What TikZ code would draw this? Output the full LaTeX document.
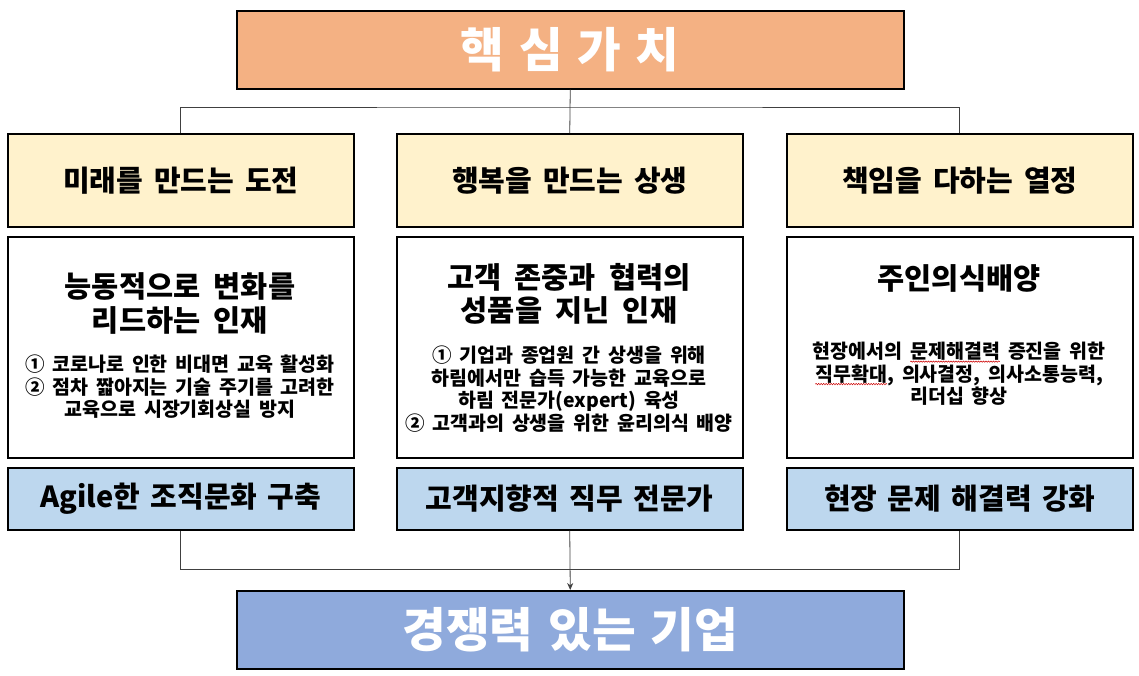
\documentclass[tikz,border=0pt]{standalone}
\usepackage{fontspec}
\setmainfont{Noto Sans CJK KR}
\usetikzlibrary{arrows.meta,decorations.pathmorphing}
\definecolor{corange}{HTML}{F4B183}
\definecolor{cyellow}{HTML}{FFF2CC}
\definecolor{cblue}{HTML}{BDD7EE}
\definecolor{cgoal}{HTML}{8FAADC}
\newcommand\wavyword[1]{\tikz[baseline=(w.base)]{\node[inner sep=0pt,outer sep=0pt](w){#1};\draw[red!80!black,line width=0.5pt,decorate,decoration={snake,amplitude=0.7pt,segment length=2.5pt}] ([yshift=-2.8pt]w.base west) -- ([yshift=-2.8pt]w.base east);}}
\newcommand\kfont[3]{\bfseries\fontsize{#1}{#2}\selectfont\spaceskip=#3em\relax}
\begin{document}
\begin{tikzpicture}[x=1pt,y=-1pt,
  box/.style={draw=black, line width=1.5pt, inner sep=0pt, anchor=north west},
  wide/.style={box, minimum width=667pt, minimum height=78pt, text=white, font=\kfont{47.5}{54}{0.31}},
  valbox/.style={box, fill=cyellow, minimum width=346pt, minimum height=93pt, font=\kfont{29}{34}{0.38}},
  descbox/.style={box, fill=white, minimum width=346pt, minimum height=221pt},
  resbox/.style={box, fill=cblue, minimum width=346pt, minimum height=62pt, font=\kfont{29}{34}{0.36}},
  head/.style={align=center, inner sep=0pt, font=\kfont{29.5}{33.5}{0.45}},
  body/.style={align=center, inner sep=0pt, font=\kfont{19.5}{22.5}{0.4}},
  link/.style={draw=black!75, line width=0.8pt}
]
\useasboundingbox (0,0) rectangle (1139,675);

% top
\node[wide, fill=corange] (core) at (236,10) {핵 심 가 치};

% values row
\node[valbox] (v1) at (7,133) {미래를 만드는 도전};
\node[valbox] (v2) at (396,133) {행복을 만드는 상생};
\node[valbox] (v3) at (786,133) {책임을 다하는 열정};

% description row
\node[descbox] (d1) at (7,236) {};
\node[descbox] (d2) at (396,236) {};
\node[descbox] (d3) at (786,236) {};

\node[head] (h1) at (180,303.5) {능동적으로 변화를\\리드하는 인재};
\node[body] (t1) at (180,387) {① 코로나로 인한 비대면 교육 활성화\\② 점차 짧아지는 기술 주기를 고려한\\교육으로 시장기회상실 방지};

\node[head] (h2) at (569,294) {고객 존중과 협력의\\성품을 지닌 인재};
\node[body] (t2) at (569,389) {① 기업과 종업원 간 상생을 위해\\하림에서만 습득 가능한 교육으로\\하림 전문가(expert) 육성\\② 고객과의 상생을 위한 윤리의식 배양};

\node[head] (h3) at (959,278) {주인의식배양};
\node[body] (t3) at (959,374) {현장에서의 \wavyword{문제해결력} 증진을 위한\\\wavyword{직무확대}, 의사결정, 의사소통능력,\\리더십 향상};

% result row
\node[resbox] (r1) at (7,467) {Agile한 조직문화 구축};
\node[resbox] (r2) at (396,467) {고객지향적 직무 전문가};
\node[resbox] (r3) at (786,467) {현장 문제 해결력 강화};

% goal
\node[wide, fill=cgoal] (goal) at (236,590) {경쟁력 있는 기업};

% connectors
\coordinate (hubtop) at (569.5,107);
\coordinate (hubbot) at (569.5,569);
\draw[link] (core.south) -- (v2.north);
\draw[link] (v1.north) |- (hubtop) -| (v3.north);
\draw[link] (r1.south) |- (hubbot) -| (r3.south);
\draw[link, -{Stealth[length=7pt,width=6pt]}] (r2.south) -- (goal.north);
\end{tikzpicture}
\end{document}
